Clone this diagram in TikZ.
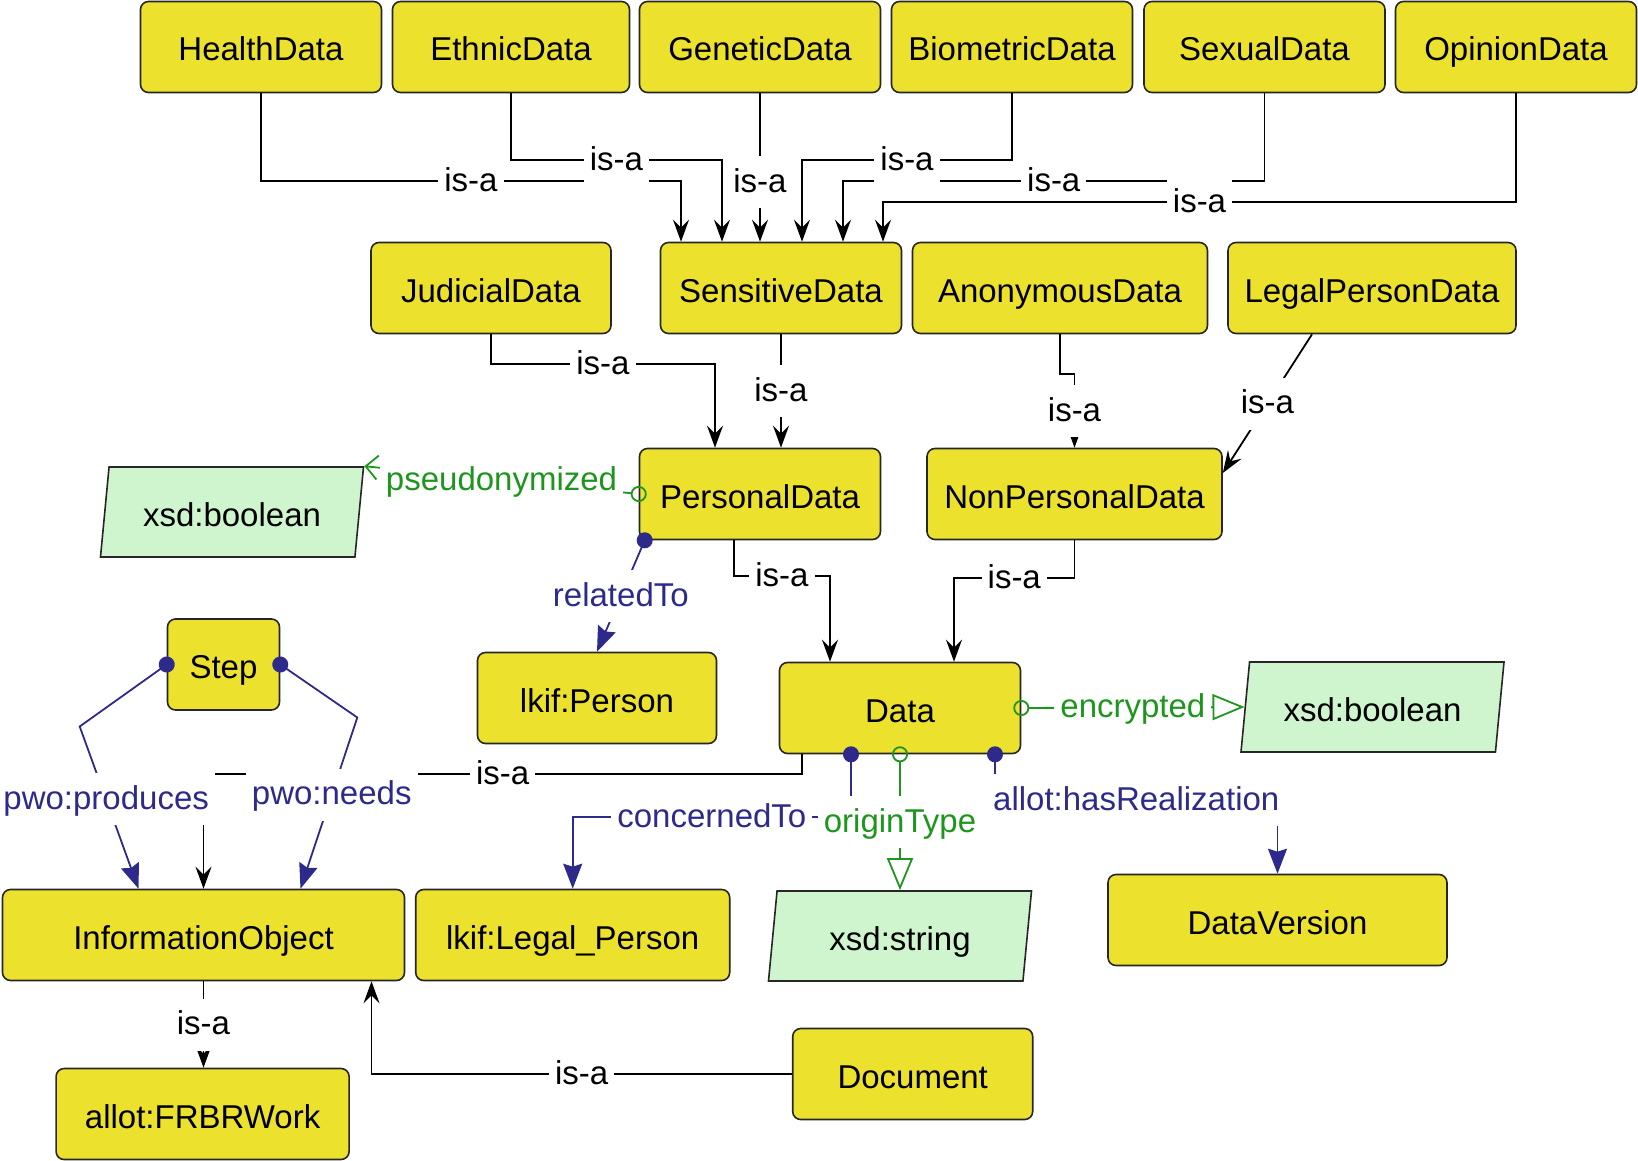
\documentclass[tikz,border=0pt]{standalone}
\usepackage{fontspec}
\setmainfont{Liberation Sans}
\usetikzlibrary{arrows.meta,shapes.geometric}
\definecolor{ClassYellow}{HTML}{ECE22E}
\definecolor{TypeGreen}{HTML}{CFF5CF}
\definecolor{PropBlue}{HTML}{2E2A8C}
\definecolor{PropGreen}{HTML}{1E961E}

\begin{document}
\begin{tikzpicture}[
    x=1pt, y=-1pt,
    >=Stealth,
    every node/.style={font=\fontsize{33}{39}\selectfont},
    classbox/.style={draw=black!85, line width=1.6pt, fill=ClassYellow, rounded corners=8pt, minimum height=91pt, inner sep=0pt, text height=28pt, text depth=0pt},
    typebox/.style={trapezium, trapezium left angle=73, trapezium right angle=107, trapezium stretches body, draw=black!85, line width=1.6pt, fill=TypeGreen, minimum width=263pt, minimum height=90pt, inner sep=0pt, text height=28pt, text depth=0pt},
    isa/.style={draw=black, line width=1.8pt, -{Stealth[length=22pt,width=16pt,inset=8pt]}},
    objprop/.style={draw=PropBlue, line width=1.8pt, shorten <=-8pt, {Circle[length=16pt]}-{Stealth[length=25pt,width=19pt,inset=3pt]}},
    dataprop/.style={draw=PropGreen, line width=1.8pt, shorten <=-8pt, {Circle[open,length=16pt]}-{Triangle[open,length=32pt,width=26pt]}},
    isalabel/.style={fill=white, inner xsep=6pt, inner ysep=11pt, text height=25pt, text depth=5pt},
    bluelabel/.style={isalabel, text=PropBlue},
    greenlabel/.style={isalabel, text=PropGreen}
]
\useasboundingbox (0,0) rectangle (1638,1161);

% kinds of data
\node[classbox, minimum width=241pt] (health) at (261,47) {HealthData};
\node[classbox, minimum width=237pt] (ethnic) at (511,47) {EthnicData};
\node[classbox, minimum width=241pt] (genetic) at (760,47) {GeneticData};
\node[classbox, minimum width=241pt] (bio) at (1012,47) {BiometricData};
\node[classbox, minimum width=241pt] (sexual) at (1264.5,47) {SexualData};
\node[classbox, minimum width=241pt] (opinion) at (1516,47) {OpinionData};

\node[classbox, minimum width=240pt] (judicial) at (491,288) {JudicialData};
\node[classbox, minimum width=241pt] (sens) at (781,288) {SensitiveData};
\node[classbox, minimum width=295pt] (anon) at (1060,288) {AnonymousData};
\node[classbox, minimum width=288pt] (legal) at (1372,288) {LegalPersonData};

\node[typebox] (bool1) at (232,512) {xsd:boolean};
\node[classbox, minimum width=241pt] (pers) at (760,494) {PersonalData};
\node[classbox, minimum width=295pt] (nonpers) at (1074.5,494) {NonPersonalData};

\node[classbox, minimum width=112pt] (step) at (223.5,664.5) {Step};
\node[classbox, minimum width=239pt] (lperson) at (597,698) {lkif:Person};
\node[classbox, minimum width=241pt] (data) at (900,708) {Data};
\node[typebox] (bool2) at (1372.5,707) {xsd:boolean};

\node[classbox, minimum width=402pt] (infobj) at (203.5,935) {InformationObject};
\node[classbox, minimum width=314pt] (legalp) at (572.7,935) {lkif:Legal\_Person};
\node[typebox] (xstr) at (900,936) {xsd:string};
\node[classbox, minimum width=339pt] (dataver) at (1277.5,920) {DataVersion};

\node[classbox, minimum width=293pt] (frbr) at (202.6,1114) {allot:FRBRWork};
\node[classbox, minimum width=240pt] (doc) at (912.7,1074) {Document};

% is-a edges into SensitiveData
\draw[isa] (health.south) -- ++(0,88) -| node[isalabel, pos=0.25] {is-a} ([xshift=-100pt]sens.north);
\draw[isa] (ethnic.south) -- ++(0,67) -| node[isalabel, pos=0.25] {is-a} ([xshift=-59pt]sens.north);
\draw[isa] (genetic.south) -- node[isalabel, pos=0.6] {is-a} (genetic.south |- sens.north);
\draw[isa] (sexual.south) -- ++(0,88) -| node[isalabel, pos=0.25] {is-a} ([xshift=62pt]sens.north);
\draw[isa] (bio.south) -- ++(0,67) -| node[isalabel, pos=0.25] {is-a} ([xshift=21pt]sens.north);
\draw[isa] (opinion.south) -- ++(0,109) -| node[isalabel, pos=0.25] {is-a} ([xshift=102pt]sens.north);

\draw[isa] (judicial.south) -- ++(0,30) -| node[isalabel, pos=0.25] {is-a} ([xshift=-45pt]pers.north);
\draw[isa] (sens.south) -- node[isalabel] {is-a} (sens.south |- pers.north);
\draw[isa] (anon.south) -- ++(0,40) -| node[isalabel, pos=0.75] {is-a} (nonpers.north);
\draw[isa] ([xshift=-60pt]legal.south) -- node[isalabel] {is-a} ([yshift=21pt]nonpers.east);
\draw[isa] ([xshift=-26pt]pers.south) -- ++(0,36) -| node[isalabel, pos=0.25] {is-a} ([xshift=-70pt]data.north);
\draw[isa] (nonpers.south) -- ++(0,38) -| node[isalabel, pos=0.25] {is-a} ([xshift=54pt]data.north);
\draw[isa] ([xshift=-98pt]data.south) -- ++(0,20) -| node[isalabel, pos=0.25] {is-a} (infobj.north);
\draw[isa] (infobj.south) -- node[isalabel] {is-a} (infobj.south |- frbr.north);
\draw[isa] (doc.west) -| node[isalabel, pos=0.25] {is-a} ([xshift=168pt]infobj.south);

% properties
\draw[dataprop, {Circle[open,length=16pt]}-{Straight Barb[length=12pt,width=24pt]}] (pers.west) -- node[greenlabel] {pseudonymized} (bool1.top right corner);
\draw[objprop] ([xshift=6pt]pers.south west) -- node[bluelabel] {relatedTo} (lperson.north);
\draw[objprop] (step.west) -- ++(-87,62) -- node[bluelabel, pos=0.45] {pwo:produces} ([xshift=-65pt]infobj.north);
\draw[objprop] (step.east) -- ++(77,53) -- node[bluelabel, pos=0.45] {pwo:needs} ([xshift=97pt]infobj.north);
\draw[objprop] ([xshift=-49pt]data.south) -- ++(0,63) -| node[bluelabel, pos=0.25] {concernedTo} (legalp.north);
\draw[dataprop] (data.south) -- node[greenlabel] {originType} (data.south |- xstr.north);
\draw[objprop] ([xshift=95pt]data.south) -- ++(0,46) -| node[bluelabel, pos=0.25] {allot:hasRealization} (dataver.north);
\draw[dataprop] (data.east) -- node[greenlabel] {encrypted} (bool2.left side);
\end{tikzpicture}
\end{document}
